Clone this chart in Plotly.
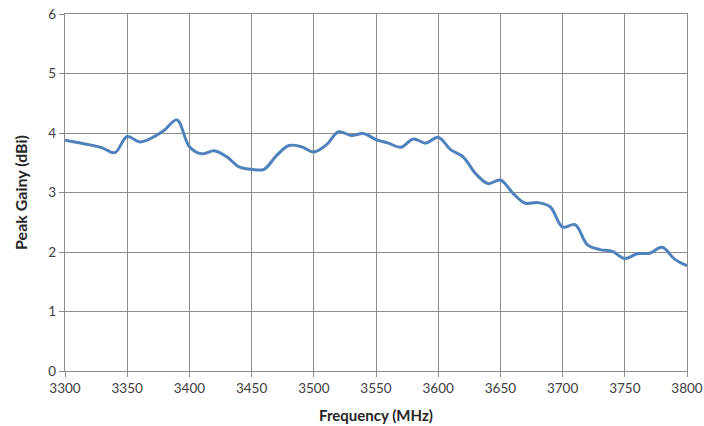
import plotly.graph_objects as go

freq_mhz = [3300, 3310, 3320, 3330, 3340, 3350, 3360, 3370, 3380, 3390,
            3400, 3410, 3420, 3430, 3440, 3450, 3460, 3470, 3480, 3490,
            3500, 3510, 3520, 3530, 3540, 3550, 3560, 3570, 3580, 3590,
            3600, 3610, 3620, 3630, 3640, 3650, 3660, 3670, 3680, 3690,
            3700, 3710, 3720, 3730, 3740, 3750, 3760, 3770, 3780, 3790, 3800]
peak_gain_dbi = [3.88, 3.84, 3.80, 3.75, 3.67, 3.94, 3.85, 3.92, 4.05, 4.22,
                 3.77, 3.65, 3.70, 3.60, 3.43, 3.39, 3.39, 3.62, 3.79, 3.77,
                 3.68, 3.80, 4.02, 3.96, 3.99, 3.89, 3.83, 3.76, 3.90, 3.83,
                 3.93, 3.72, 3.60, 3.32, 3.15, 3.21, 2.99, 2.82, 2.83, 2.76,
                 2.42, 2.46, 2.12, 2.04, 2.01, 1.89, 1.97, 1.98, 2.08, 1.88, 1.77]

x_ticks = [3300, 3350, 3400, 3450, 3500, 3550, 3600, 3650, 3700, 3750, 3800]
y_ticks = [0, 1, 2, 3, 4, 5, 6]

font_family = "Lato, Liberation Sans, sans-serif"
grid_color = "#8c8c8c"

fig = go.Figure()
fig.add_trace(go.Scatter(
    x=freq_mhz, y=peak_gain_dbi, mode="lines",
    line=dict(color="#4F81BD", width=3, shape="spline", smoothing=1.0),
    showlegend=False, hoverinfo="x+y",
))

fig.update_layout(
    width=704, height=426,
    margin=dict(l=65, r=17, t=14, b=55),
    paper_bgcolor="white", plot_bgcolor="white",
    font=dict(family=font_family, size=13.5, color="#404040"),
)
fig.update_xaxes(
    range=[3300, 3800], tickvals=x_ticks, ticktext=[str(v) for v in x_ticks],
    showgrid=True, gridcolor=grid_color, gridwidth=1.2,
    showline=True, linecolor=grid_color, linewidth=1.2, mirror=True,
    ticks="outside", ticklen=5, tickcolor=grid_color,
    zeroline=False, automargin=False, ticklabeloverflow="allow",
    title=dict(text="<b>Frequency (MHz)</b>", font=dict(size=15, color="#262626"), standoff=15),
    tickfont=dict(size=13.5, color="#404040"),
)
fig.update_yaxes(
    range=[0, 6], tickvals=y_ticks, ticktext=[str(v) for v in y_ticks],
    showgrid=True, gridcolor=grid_color, gridwidth=1.2,
    showline=True, linecolor=grid_color, linewidth=1.2, mirror=True,
    ticks="outside", ticklen=5, tickcolor=grid_color,
    zeroline=False, automargin=False, ticklabeloverflow="allow",
    title=dict(text="<b>Peak Gainy (dBi)</b>", font=dict(size=16, color="#262626"), standoff=16),
    tickfont=dict(size=13.5, color="#404040"),
)

fig.write_html(
    "out.html",
    config={"displayModeBar": False},
    post_script="document.body.style.margin='0';document.body.style.overflow='hidden';",
)
